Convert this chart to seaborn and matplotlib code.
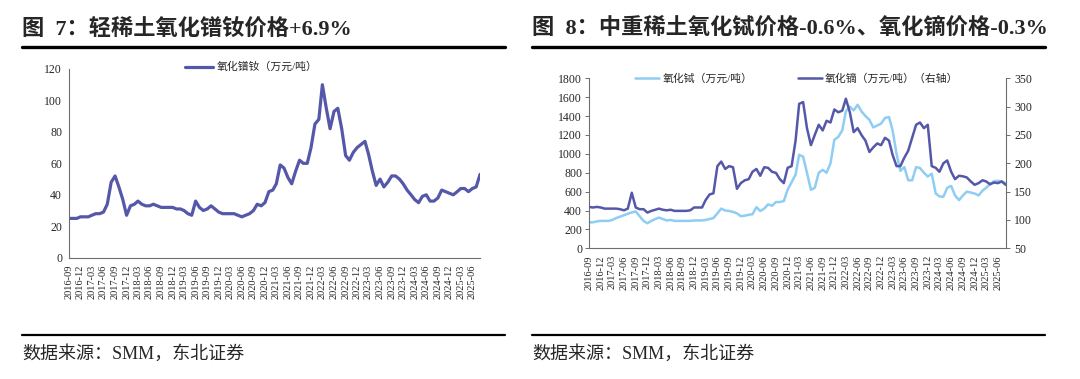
import pandas as pd
import matplotlib
matplotlib.use('Agg')
import matplotlib.pyplot as plt
import seaborn as sns
from matplotlib.lines import Line2D

# monthly readings, 2016-09 .. 2025-08
dates = pd.date_range('2016-09-01', periods=108, freq='MS')

prnd = [25, 25, 25, 26, 26, 26, 27, 28, 28, 29, 34, 48, 52, 45, 37, 27, 33, 34, 36, 34,
        33, 33, 34, 33, 32, 32, 32, 32, 31, 31, 30, 28, 27, 36, 32, 30, 31, 33, 31, 29,
        28, 28, 28, 28, 27, 26, 27, 28, 30, 34, 33, 35, 42, 43, 47, 59, 57, 51, 47, 55,
        62, 60, 60, 70, 85, 88, 110, 95, 82, 93, 95, 82, 65, 62, 67, 70, 72, 74, 66, 55,
        46, 50, 45, 48, 52, 52, 50, 47, 43, 40, 37, 35, 39, 40, 36, 36, 38, 43, 42, 41,
        40, 42, 44, 44, 42, 44, 45, 53]

tb = [275, 275, 285, 290, 290, 290, 300, 320, 335, 350, 365, 380, 390, 340, 290, 265, 290, 310, 325, 310,
      295, 300, 290, 290, 290, 290, 290, 295, 295, 295, 300, 310, 320, 370, 420, 400, 395, 385, 370, 340,
      345, 355, 360, 435, 395, 420, 465, 450, 490, 490, 500, 620, 700, 780, 990, 970, 800, 620, 640, 800,
      830, 800, 900, 1150, 1180, 1250, 1450, 1500, 1460, 1520, 1450, 1400, 1360, 1280, 1300, 1320, 1380, 1390, 1250, 1000,
      820, 860, 720, 720, 860, 850, 800, 760, 790, 580, 550, 545, 640, 660, 560, 510, 560, 600, 590, 580,
      560, 610, 640, 680, 710, 715, 705, 690]

dy = [123, 122, 123, 122, 120, 120, 120, 120, 119, 117, 120, 148, 122, 119, 119, 113, 116, 118, 120, 118,
      117, 118, 116, 116, 116, 116, 117, 122, 122, 122, 135, 145, 147, 195, 203, 190, 195, 193, 155, 165,
      170, 172, 185, 190, 178, 193, 192, 185, 183, 172, 165, 192, 195, 240, 305, 308, 262, 232, 250, 268,
      258, 275, 272, 295, 290, 293, 314, 290, 255, 262, 250, 240, 220, 228, 235, 232, 245, 240, 215, 195,
      195, 210, 222, 245, 268, 272, 262, 268, 195, 192, 185, 200, 205, 185, 172, 178, 177, 175, 168, 162,
      165, 170, 168, 163, 166, 165, 168, 162]

tick_dates = pd.date_range('2016-09-01', '2025-06-01', freq='3MS')
tick_labels = [d.strftime('%Y-%m') for d in tick_dates]

dark = '#5558a8'
light = '#8fcdf3'
axis_c = '#6e6e6e'

sns.set_style('white')
plt.rcParams['font.family'] = ['Liberation Serif', 'Noto Sans CJK SC']
plt.rcParams['axes.unicode_minus'] = False

fig = plt.figure(figsize=(10.8, 3.79), dpi=100)


def style_axis(ax, right=False):
    for s in ['top', 'right']:
        ax.spines[s].set_visible(False)
    for s in ['left', 'bottom']:
        ax.spines[s].set_color(axis_c)
        ax.spines[s].set_linewidth(0.8)
    ax.set_xlim(dates[0], dates[-1])
    ax.set_xticks(tick_dates)
    ax.set_xticklabels(tick_labels, rotation=90, fontsize=7.5)
    ax.tick_params(axis='both', direction='out', length=3, width=0.7, color=axis_c, pad=2)
    ax.tick_params(axis='y', labelsize=8.5)
    ax.set_xlabel('')
    ax.set_ylabel('')


# left chart
ax1 = fig.add_axes([0.0639, 0.320, 0.3806, 0.498])
sns.lineplot(x=dates, y=prnd, ax=ax1, color=dark, linewidth=2.3, label='氧化镨钕（万元/吨）')
style_axis(ax1)
ax1.set_ylim(0, 120)
ax1.set_yticks(range(0, 121, 20))
ax1.legend(loc='center', bbox_to_anchor=(0.443, 1.01), frameon=False, fontsize=7.8,
           handlelength=2.6, handletextpad=0.3)

# right chart
ax2 = fig.add_axes([0.5454, 0.3449, 0.3858, 0.4485])
ax3 = ax2.twinx()
sns.lineplot(x=dates, y=tb, ax=ax2, color=light, linewidth=1.8, label='氧化铽（万元/吨）', legend=False)
sns.lineplot(x=dates, y=dy, ax=ax3, color=dark, linewidth=1.8, label='氧化镝（万元/吨）（右轴）', legend=False)
style_axis(ax2)
ax2.set_ylim(0, 1800)
ax2.set_yticks(range(0, 1801, 200))
ax3.set_ylim(50, 350)
ax3.set_yticks(range(50, 351, 50))
ax3.set_ylabel('')
for s in ['top', 'left', 'bottom']:
    ax3.spines[s].set_visible(False)
ax3.spines['right'].set_color(axis_c)
ax3.spines['right'].set_linewidth(0.8)
ax3.tick_params(axis='y', direction='out', length=3, width=0.7, color=axis_c, labelsize=8.5, pad=3)
h = [Line2D([], [], color=light, lw=1.8), Line2D([], [], color=dark, lw=1.8)]
ax3.legend(h, ['氧化铽（万元/吨）', '氧化镝（万元/吨）（右轴）'], loc='center', ncol=2,
           bbox_to_anchor=(0.499, 0.996), frameon=False, fontsize=7.8,
           handlelength=2.2, handletextpad=0.3, columnspacing=4.2)

# titles, rules and sources
for x0, x1, title in [(22, 505, '图  7：轻稀土氧化镨钕价格+6.9%'),
                      (532, 1045, '图  8：中重稀土氧化铽价格-0.6%、氧化镝价格-0.3%')]:
    fig.text(x0 / 1080, 1 - 29 / 379, title, fontsize=16, fontweight='bold', va='center', ha='left')
    fig.add_artist(Line2D([x0 / 1080, x1 / 1080], [1 - 47 / 379] * 2, color='black', lw=2.4,
                          transform=fig.transFigure))
    fig.add_artist(Line2D([x0 / 1080, x1 / 1080], [1 - 335 / 379] * 2, color='black', lw=1.6,
                          transform=fig.transFigure))
    fig.text(x0 / 1080, 1 - 354 / 379, '数据来源：SMM，东北证券', fontsize=13, va='center', ha='left')

fig.savefig('out.png', dpi=100)
